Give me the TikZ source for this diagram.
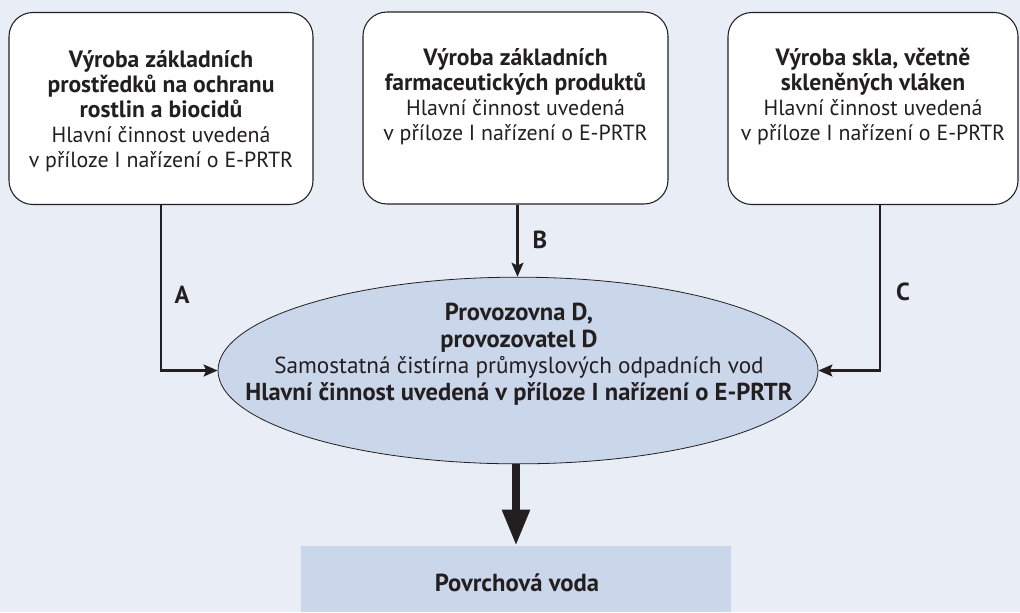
\documentclass[tikz,border=0pt]{standalone}
\usepackage{fontspec}
\setmainfont{PT Sans}
\usetikzlibrary{arrows.meta,shapes.geometric,calc}
\definecolor{bgc}{HTML}{E8EDF6}
\definecolor{fillc}{HTML}{CAD6E9}
\definecolor{inkc}{HTML}{231F20}
\newcommand{\bb}[1]{{\fontsize{17.7}{18.75}\selectfont\bfseries #1}}
\newcommand{\eb}[1]{{\fontsize{18.4}{20}\selectfont\bfseries #1}}
\tikzset{
  box/.style={draw=inkc, line width=0.8pt, rounded corners=18pt, fill=white, minimum width=228pt, minimum height=144pt, inner sep=0pt},
  boxtext/.style={align=center, inner sep=0pt, text=inkc, font=\fontsize{16.4}{18.75}\selectfont, anchor=base},
  conn/.style={draw=inkc, line width=1.6pt, -{Stealth[length=10.5pt,width=9pt,inset=2pt]}},
  lbl/.style={text=inkc, font=\fontsize{18.5}{20}\selectfont\bfseries, inner sep=0pt},
}
\begin{document}
\begin{tikzpicture}[x=0.75pt,y=-0.75pt]
\fill[bgc] (0,0) rectangle (1020,612);
\useasboundingbox (0,0) rectangle (1020,612);
% boxes
\node[box, minimum width=228pt] (b1) at (161,108.5) {};
\node[box, minimum width=228.75pt] (b2) at (515.5,108) {};
\node[box, minimum width=217.5pt] (b3) at (873,108.5) {};
\node[boxtext] (t1) at (161,167) {\bb{Výroba základních}\\\bb{prostředků na ochranu}\\\bb{rostlin a biocidů}\\Hlavní činnost uvedená\\v příloze I nařízení o E-PRTR};
\node[boxtext] (t2) at (515.5,140) {\bb{Výroba základních}\\\bb{farmaceutických produktů}\\Hlavní činnost uvedená\\v příloze I nařízení o E-PRTR};
\node[boxtext] (t3) at (873,140) {\bb{Výroba skla, včetně}\\\bb{skleněných vláken}\\Hlavní činnost uvedená\\v příloze I nařízení o E-PRTR};
% ellipse
\node[ellipse, draw=inkc, line width=0.6pt, fill=fillc, minimum width=450pt, minimum height=140pt, inner sep=0pt] (ell) at (518,370.5) {};
\node[boxtext, font=\fontsize{17.4}{19.8}\selectfont] (te) at (519,400) {\eb{Provozovna D,}\\\eb{provozovatel D}\\Samostatná čistírna průmyslových odpadních vod\\\eb{Hlavní činnost uvedená v příloze I nařízení o E-PRTR}};
% surface water
\node[fill=fillc, minimum width=322.5pt, minimum height=49.5pt, inner sep=0pt] (voda) at (516,579) {};
\node[lbl, anchor=base] (tv) at (517,591) {Povrchová voda};
% connectors
\draw[conn] (b1.south) |- (ell.west);
\draw[conn] ([xshift=1.5pt]b2.south) -- ([xshift=1.5pt]b2.south |- ell.north);
\draw[conn] ([xshift=5.25pt]b3.south) |- (ell.east);
\draw[draw=inkc, line width=6pt, -{Triangle[width=19.5pt,length=27pt]}] (ell.south -| voda.north) -- (voda.north);
% labels
\node[lbl] (la) at (182,295) {A};
\node[lbl] (lb) at (540,240) {B};
\node[lbl] (lc) at (903,292) {C};
\end{tikzpicture}
\end{document}
